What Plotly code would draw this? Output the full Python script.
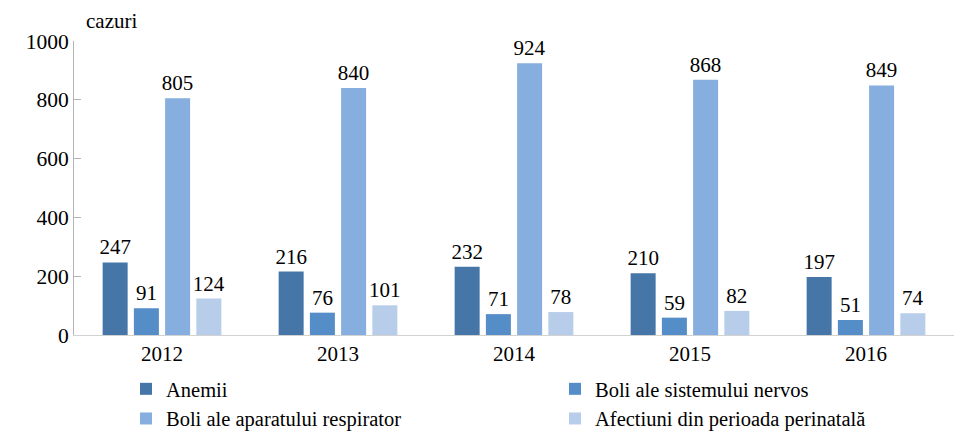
import plotly.graph_objects as go

years = ["2012", "2013", "2014", "2015", "2016"]
anemii = [247, 216, 232, 210, 197]
nervos = [91, 76, 71, 59, 51]
respirator = [805, 840, 924, 868, 849]
perinatal = [124, 101, 78, 82, 74]

series = [
    ("Anemii", anemii, "rgb(70,118,168)", "legend"),
    ("Boli ale sistemului nervos", nervos, "rgb(84,141,200)", "legend2"),
    ("Boli ale aparatului respirator", respirator, "rgb(134,174,222)", "legend"),
    ("Afectiuni din perioada perinatală", perinatal, "rgb(184,205,233)", "legend2"),
]

FAMILY = "Liberation Serif, Times New Roman, serif"


def fnt(size=21):
    return dict(family=FAMILY, size=size, color="black")


fig = go.Figure()
for name, vals, col, lg in series:
    fig.add_trace(go.Bar(
        x=years, y=vals, name=name, legend=lg,
        marker=dict(color=col, line=dict(width=0)),
        text=[str(v) for v in vals], textposition="outside",
        constraintext="none",
        textfont=fnt(21),
        cliponaxis=False,
    ))


def leg(xpx):
    return dict(
        orientation="v", yref="container", yanchor="top", y=1 - 361 / 433,
        xref="container", xanchor="left", x=xpx / 968,
        font=fnt(20.5), itemwidth=30, tracegroupgap=0, traceorder="normal",
        bgcolor="rgba(0,0,0,0)",
    )


fig.update_layout(
    template="none",
    width=968, height=433,
    margin=dict(l=66, r=22, t=33, b=106, autoexpand=False),
    paper_bgcolor="white", plot_bgcolor="white",
    barmode="group", bargap=0.29, bargroupgap=0.2,
    font=fnt(21),
    showlegend=True,
    legend=leg(118),
    legend2=leg(547),
    annotations=[dict(
        text="cazuri", xref="paper", yref="paper", x=0.0, y=(327 - 13) / 294,
        xanchor="left", yanchor="middle", showarrow=False,
        xshift=10,
        font=fnt(21),
    )],
)
fig.update_yaxes(
    range=[0, 1000], dtick=200, showgrid=False, zeroline=False,
    showline=True, linecolor="rgb(180,180,180)", linewidth=1,
    ticks="inside", ticklen=7, tickcolor="rgb(180,180,180)",
    tickfont=fnt(21.5),
)
fig.update_xaxes(
    showgrid=False, showline=True, linecolor="rgb(210,210,210)", linewidth=1,
    ticks="", tickfont=fnt(21),
)

fig.write_html("out.html")
